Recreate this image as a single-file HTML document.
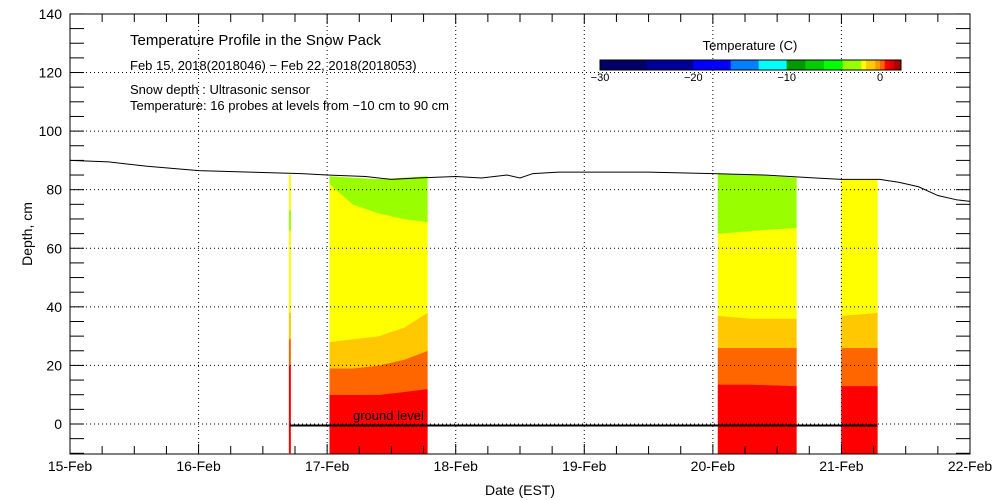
<!DOCTYPE html>
<html><head><meta charset="utf-8"><style>
body{margin:0;background:#fff;}
svg{display:block;font-family:"Liberation Sans",sans-serif;}
</style></head><body>
<svg id="c" width="1000" height="500" xmlns="http://www.w3.org/2000/svg"></svg>
<script>
// ---- data ----
const xTickLabels = ["15-Feb","16-Feb","17-Feb","18-Feb","19-Feb","20-Feb","21-Feb","22-Feb"];
const yTickValues = [0,20,40,60,80,100,120,140];
const depthTimes = [15.0,15.3,15.6,16.0,16.4,16.8,17.0,17.3,17.5,17.7,18.0,18.2,18.4,18.5,18.6,18.8,19.0,19.5,20.0,20.4,20.8,21.0,21.3,21.45,21.6,21.75,21.9,22.0];
const depthValues = [90,89.5,88,86.5,86,85.5,85,84.5,83.5,84,84.5,84,85,84,85.5,86,86,86,85.5,85,84,83.5,83.5,82.5,81,78,76.5,76];
const bandColors = ["#ff0000","#ff6600","#ffc800","#ffff00","#99ff00"];
// block 1
const b1Times = [17.02,17.2,17.4,17.6,17.78];
const b1Bounds = [[-10,-10,-10,-10,-10],[10,10,10,11,12],[19,19,20,22,25],[28,29,30,33,38],[82,75,72,70,69],[84.5,84,83.5,84,84.5]];
// block 2
const b2Times = [20.04,20.3,20.65];
const b2Bounds = [[-10,-10,-10],[13.5,13.5,13],[26,26,26],[37,36,36],[65,66,67],[85.5,85,84]];
// block 3
const b3Times = [21.0,21.28];
const b3Bounds = [[-10,-10],[13,13],[26,26],[37,38],[83.5,83.5],[83.5,83.5]];
const legendValues = [-30,-25,-20,-16,-13,-10,-8,-6,-4,-2,-1.5,-0.5,0,0.5,1,1.5,2.2];
const legendColors = ["#000066","#000099","#0000ff","#0080ff","#00ffff","#009900","#00cc00","#00ff00","#99ff00","#ffff00","#ffcc00","#ff9900","#ff6600","#ff0000","#dd0000","#aa0000","#660000"];
const legendTicks = [-30,-20,-10,0];

// ---- axes ----
const X0=70,X1=970,Y0=14,Y1=454;
const xs = d => X0 + (d-15)*(X1-X0)/7;
const ys = v => 424 - v*2.929;
const svg=document.getElementById('c');
const NS="http://www.w3.org/2000/svg";
function mk(tag,attrs,parent){const e=document.createElementNS(NS,tag);for(const k in attrs)e.setAttribute(k,attrs[k]);(parent||svg).appendChild(e);return e;}

function drawBlock(times,bounds,name){
  const g=mk('g',{});
  
  
  for(let b=0;b<bounds.length-1;b++){
    let pts=[];
    for(let i=0;i<times.length;i++)pts.push(xs(times[i])+','+ys(bounds[b][i]));
    for(let i=times.length-1;i>=0;i--)pts.push(xs(times[i])+','+ys(bounds[b+1][i]));
    const p=mk('polygon',{points:pts.join(' '),fill:bandColors[b],stroke:bandColors[b],'stroke-width':0.5},g);
    
    
  }
}
drawBlock(b1Times,b1Bounds,'profile-block-feb17');
drawBlock(b2Times,b2Bounds,'profile-block-feb20');
drawBlock(b3Times,b3Bounds,'profile-block-feb21');
const thin=[[-10,20,"#ff0000"],[20,29,"#ff6600"],[29,38,"#ffc800"],[38,66,"#ffff00"],[66,73,"#99ff00"],[73,85,"#ffff00"]];
thin.forEach(s=>{const l=mk('line',{x1:xs(16.71),x2:xs(16.71),y1:ys(s[0]),y2:ys(s[1]),stroke:s[2],'stroke-width':2});
});

for(let d=16;d<22;d++){const l=mk('line',{x1:xs(d),x2:xs(d),y1:Y0,y2:Y1,stroke:'#000','stroke-dasharray':'1,3','stroke-width':1});
}
yTickValues.forEach(v=>{if(v>0&&v<140){const l=mk('line',{x1:X0,x2:X1,y1:ys(v),y2:ys(v),stroke:'#000','stroke-dasharray':'1,3','stroke-width':1});
}});
{const l=mk('line',{x1:X0,x2:X1,y1:ys(0),y2:ys(0),stroke:'#000','stroke-dasharray':'1,3'});}

const gl=mk('line',{x1:xs(16.71),x2:xs(21.28),y1:ys(-0.5),y2:ys(-0.5),stroke:'#000','stroke-width':2});

const glt=mk('text',{x:353,y:420,'font-size':13});glt.textContent='ground level';


const sd=mk('polyline',{points:depthTimes.map((t,i)=>xs(t)+','+ys(depthValues[i])).join(' '),fill:'none',stroke:'#000','stroke-width':1});


const fr=mk('rect',{x:X0,y:Y0,width:X1-X0,height:Y1-Y0,fill:'none',stroke:'#000','stroke-width':1});


for(let q=0;q<=28;q++){const x=xs(15+q/4);const len=q%4==0?10:8;
 mk('line',{x1:x,x2:x,y1:Y1,y2:Y1-len,stroke:'#000'});mk('line',{x1:x,x2:x,y1:Y0,y2:Y0+len,stroke:'#000'});}
xTickLabels.forEach((s,i)=>{const t=mk('text',{x:xs(15+i),y:471,'text-anchor':'middle','font-size':14});t.textContent=s;
});
for(let v=-10;v<=140;v+=5){const y=ys(v);mk('line',{x1:X0,x2:X0+14,y1:y,y2:y,stroke:'#000'});mk('line',{x1:X1,x2:X1-14,y1:y,y2:y,stroke:'#000'});}
yTickValues.forEach(v=>{const t=mk('text',{x:X0-8,y:ys(v)+5,'text-anchor':'end','font-size':14});t.textContent=v;
});
const xt=mk('text',{x:520,y:495,'text-anchor':'middle','font-size':14});xt.textContent='Date (EST)';

const yt=mk('text',{x:32,y:234,'text-anchor':'middle','font-size':14,transform:'rotate(-90 32 234)'});yt.textContent='Depth, cm';


[["Temperature Profile in the Snow Pack",130,45,15,'chart-title'],["Feb 15, 2018(2018046) \u2212 Feb 22, 2018(2018053)",130,70,13,'date-range'],
 ["Snow depth : Ultrasonic sensor",130,94,13,'depth-note'],["Temperature: 16 probes at levels from \u221210 cm to 90 cm",130,110,13,'probe-note']].forEach(a=>{
 const t=mk('text',{x:a[1],y:a[2],'font-size':a[3]});t.textContent=a[0];});

const lx=v=>600+(v+30)*(880-600)/30;
const lg=mk('g',{});
for(let i=0;i<legendColors.length;i++){const a=lx(legendValues[i]),b=i+1<legendValues.length?lx(legendValues[i+1]):901;
 mk('rect',{x:a,y:60,width:Math.max(0,b-a+0.5),height:10,fill:legendColors[i]},lg);}
mk('rect',{x:600,y:60,width:301,height:10,fill:'none',stroke:'#000'},lg);
legendTicks.forEach(v=>{const t=mk('text',{x:lx(v),y:81,'text-anchor':'middle','font-size':11},lg);t.textContent=v==0?'0':'\u2212'+Math.abs(v);
 });
const ltt=mk('text',{x:750,y:50,'text-anchor':'middle','font-size':13},lg);ltt.textContent='Temperature (C)';

</script>
</body></html>
